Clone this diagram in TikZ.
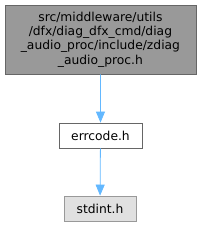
\documentclass[tikz,border=0pt]{standalone}
\usepackage{fontspec}
\setmainfont{DejaVu Sans}
\usetikzlibrary{arrows.meta}
\definecolor{edgeblue}{HTML}{63B8FF}
\definecolor{topfill}{HTML}{999999}
\definecolor{boxline}{HTML}{666666}
\definecolor{leaffill}{HTML}{E0E0E0}
\definecolor{leafline}{HTML}{999999}
\tikzset{
  filebox/.style={draw=boxline, line width=0.8pt, inner sep=0pt, align=center,
    font=\fontsize{12.3}{14.3}\selectfont},
  dep/.style={draw=edgeblue, line width=0.8pt, -{Triangle[length=11pt,width=9pt]}}
}
\begin{document}
\begin{tikzpicture}[x=1pt,y=1pt]
\useasboundingbox (0,0) rectangle (201,-227);
\node[filebox, fill=topfill, minimum width=191pt, minimum height=69pt] (top) at (100.4,-39.5)
  {src/middleware/utils\\/dfx/diag\_dfx\_cmd/diag\\\_audio\_proc/include/zdiag\\\_audio\_proc.h};
\node[filebox, fill=white, minimum width=83pt, minimum height=25pt] (err) at (100.5,-135.5) {errcode.h};
\node[filebox, fill=leaffill, draw=leafline, minimum width=72pt, minimum height=25pt] (std) at (100,-208.5) {stdint.h};
\draw[dep] (top) -- (err);
\draw[dep] (err) -- (std);
\end{tikzpicture}
\end{document}
